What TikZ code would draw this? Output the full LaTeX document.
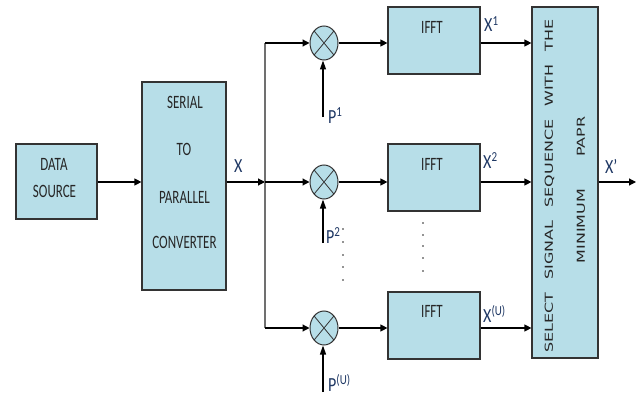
\documentclass[tikz,border=0pt]{standalone}
\usepackage{fontspec}
\usepackage{graphicx}
\setmainfont{Carlito}
\newfontfamily\dvfont{DejaVu Sans}
\usetikzlibrary{arrows.meta,shapes.geometric}
\definecolor{boxfill}{HTML}{B7DEE8}
\definecolor{edgecol}{HTML}{333333}
\definecolor{lblcol}{HTML}{1F3864}
\definecolor{txtcol}{HTML}{262626}
\definecolor{distcol}{HTML}{707070}
\newcommand\vstr[1]{\scalebox{1}[1.45]{#1}}
\newcommand\lstr[1]{\scalebox{1}[1.25]{#1}}
\newcommand\hstr[1]{\scalebox{1.45}[1]{#1}}
\newcommand\lblsup[1]{\raisebox{5pt}{\fontsize{11}{11}\selectfont #1}}
\begin{document}
\begin{tikzpicture}[x=1pt,y=-1pt,
  blockbox/.style={draw=edgecol, line width=1.2pt, fill=boxfill, inner sep=0pt},
  txt/.style={inner sep=0pt, text=txtcol, font=\fontsize{13}{13}\selectfont},
  lbl/.style={inner sep=0pt, text=lblcol, anchor=base west, font=\fontsize{16}{16}\selectfont},
  rottxt/.style={inner sep=0pt, rotate=90, text=txtcol, font=\dvfont\fontsize{11}{11}\selectfont},
  mult/.style={ellipse, draw=edgecol, line width=1pt, fill=boxfill, minimum width=28pt, minimum height=34pt, inner sep=0pt,
    path picture={\draw[edgecol, line width=0.8pt] (path picture bounding box.north west) -- (path picture bounding box.south east)
      (path picture bounding box.north east) -- (path picture bounding box.south west);}},
  conn/.style={draw=black, line width=1.2pt, -{Triangle[length=7pt,width=7pt]}},
  vconn/.style={draw=black, line width=1.2pt, -{Triangle[length=9pt,width=6pt]}},
  dist/.style={draw=distcol, line width=1.1pt}
]
\useasboundingbox (0,0) rectangle (640,396);

% data source
\node[blockbox, minimum width=81pt, minimum height=75pt] (ds) at (56.5,181.5) {};
\node[txt] (dsA) at (54,164) {\vstr{DATA}};
\node[txt] (dsB) at (54.5,191.5) {\vstr{SOURCE}};

% serial to parallel
\node[blockbox, minimum width=84pt, minimum height=208pt] (ser) at (184,186) {};
\node[txt] (serA) at (185,102.5) {\vstr{SERIAL}};
\node[txt] (serB) at (184,149) {\vstr{TO}};
\node[txt] (serC) at (184.5,197.5) {\vstr{PARALLEL}};
\node[txt] (serD) at (184.5,242.5) {\vstr{CONVERTER}};

% IFFT blocks
\node[blockbox, minimum width=92pt, minimum height=67pt] (i1) at (434,40.5) {};
\node[blockbox, minimum width=92pt, minimum height=67pt] (i2) at (434,177.5) {};
\node[blockbox, minimum width=92pt, minimum height=67pt] (i3) at (434,325.5) {};
\node[txt] (i1t) at (432,27.5) {\vstr{IFFT}};
\node[txt] (i2t) at (432,164) {\vstr{IFFT}};
\node[txt] (i3t) at (432,311) {\vstr{IFFT}};

% select block
\node[blockbox, minimum width=66pt, minimum height=351pt] (sel) at (565,182.5) {};
\node[rottxt] (selA) at (549.5,186) {\hstr{SELECT\hspace{9pt}SIGNAL\hspace{9pt}SEQUENCE\hspace{9pt}WITH\hspace{9pt}THE}};
\node[rottxt] (selB) at (581,190) {\hstr{MINIMUM\hspace{22pt}PAPR}};

% multipliers
\node[mult] (m1) at (324,43) {};
\node[mult] (m2) at (324,182) {};
\node[mult] (m3) at (324,328) {};

% coordinates
\coordinate (tp) at (265,43);
\coordinate (mid) at (265,182);
\coordinate (bt) at (265,328);
\coordinate (xout) at (636,182);
\coordinate (pin1) at (323,117);
\coordinate (pin2) at (323,243);
\coordinate (pin3) at (323,392);

% connectors
\draw[conn] (ds.east |- mid) -- (ser.west |- mid);
\draw[conn] (ser.east |- mid) -- (mid);
\draw[dist] (tp) -- (bt);
\draw[conn] (tp) -- (m1.west);
\draw[conn] (mid) -- (m2.west);
\draw[conn] (bt) -- (m3.west);
\draw[conn] (m1.east) -- (m1.east -| i1.west);
\draw[conn] (m2.east) -- (m2.east -| i2.west);
\draw[conn] (m3.east) -- (m3.east -| i3.west);
\draw[conn] (i1.east |- m1) -- (sel.west |- m1);
\draw[conn] (i2.east |- m2) -- (sel.west |- m2);
\draw[conn] (i3.east |- m3) -- (sel.west |- m3);
\draw[conn] (sel.east |- mid) -- (xout);
\draw[vconn] (pin1) -- (pin1 |- m1.south);
\draw[vconn] (pin2) -- (pin2 |- m2.south);
\draw[vconn] (pin3) -- (pin3 |- m3.south);

% labels
\node[lbl] (lx) at (234,172) {\lstr{X}};
\node[lbl] (lx1) at (484,32) {\lstr{X\lblsup{1}}};
\node[lbl] (lx2) at (483,168) {\lstr{X\lblsup{2}}};
\node[lbl] (lxu) at (483,322) {\lstr{X\lblsup{(U)}}};
\node[lbl] (lxo) at (605,173) {\lstr{X\textquoteright}};
\node[lbl] (lp1) at (328,123) {\lstr{P\lblsup{1}}};
\node[lbl] (lp2) at (326,243) {\lstr{P\lblsup{2}}};
\node[lbl] (lpu) at (328,391) {\lstr{P\lblsup{(U)}}};

% continuation dots
\foreach \yy in {229,242,255,267,280} \fill[txtcol] (343,\yy) circle (0.9);
\foreach \yy in {223,235,246,258,271} \fill[txtcol] (423,\yy) circle (0.9);
\end{tikzpicture}
\end{document}
